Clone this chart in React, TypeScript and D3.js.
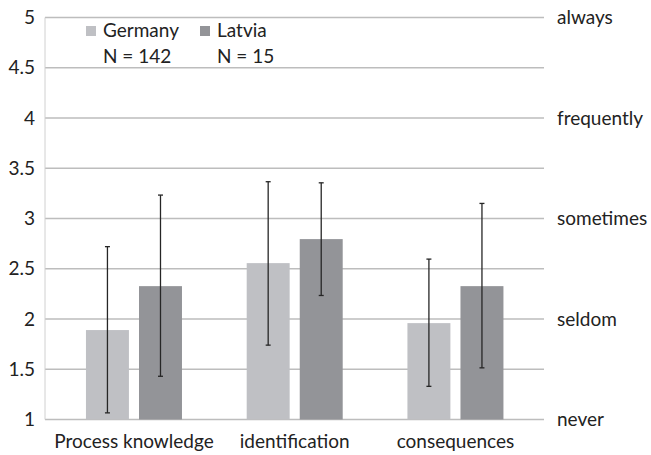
import React from "react";
import * as d3 from "d3";

const categories = ["Process knowledge", "identification", "consequences"];
const seriesNames = ["Germany", "Latvia"];
const seriesN = ["N = 142", "N = 15"];
const germanyMean = [1.89, 2.556, 1.959];
const germanyLow = [1.066, 1.74, 1.33];
const germanyHigh = [2.72, 3.366, 2.596];
const latviaMean = [2.327, 2.795, 2.327];
const latviaLow = [1.43, 2.234, 1.514];
const latviaHigh = [3.233, 3.355, 3.15];
const yTicks = [1, 1.5, 2, 2.5, 3, 3.5, 4, 4.5, 5];
const rightLabels: [number, string][] = [
  [5, "always"],
  [4, "frequently"],
  [3, "sometimes"],
  [2, "seldom"],
  [1, "never"],
];

const W = 651;
const H = 455;
const FONT = "Lato, 'Open Sans', sans-serif";
const FS = 19;
const colors = ["#bfc0c4", "#939498"];

export default function App() {
  const y = d3.scaleLinear().domain([1, 5]).range([419.5, 17.5]);
  const x = d3.scaleBand<string>().domain(categories).range([53.6, 535.8]).paddingInner(0).paddingOuter(0);
  const inner = d3.scaleBand<string>().domain(seriesNames).range([0, x.bandwidth()]).paddingInner(0.19).paddingOuter(0.61);
  const gridX0 = 45;
  const gridX1 = 544;
  const series = [
    { name: seriesNames[0], mean: germanyMean, low: germanyLow, high: germanyHigh },
    { name: seriesNames[1], mean: latviaMean, low: latviaLow, high: latviaHigh },
  ];
  return (
    <svg width={W} height={H} style={{ position: "absolute", left: 0, top: 0, fontFamily: FONT }}>
      <rect width={W} height={H} fill="#fff" />
      {yTicks.map((t) => (
        <line key={t} x1={gridX0} x2={gridX1} y1={y(t)} y2={y(t)} stroke="#bdbdbd" strokeWidth={1.3} />
      ))}
      <line x1={gridX0} x2={gridX0} y1={y(5)} y2={y(1)} stroke="#d0d0d0" strokeWidth={1} />
      {yTicks.map((t) => (
        <text key={t} x={35} y={y(t)} dy="0.35em" textAnchor="end" fontSize={FS} fill="#222">
          {String(t)}
        </text>
      ))}
      {rightLabels.map(([v, l]) => (
        <text key={l} x={557} y={y(v)} dy="0.35em" fontSize={FS} fill="#222">
          {l}
        </text>
      ))}
      {series.map((s, si) =>
        categories.map((c, ci) => {
          const bx = (x(c) as number) + (inner(s.name) as number);
          const bw = inner.bandwidth();
          const cx = bx + bw / 2;
          return (
            <g key={s.name + c}>
              <rect x={bx} y={y(s.mean[ci])} width={bw} height={y(1) - y(s.mean[ci])} fill={colors[si]} />
              <line x1={cx} x2={cx} y1={y(s.high[ci])} y2={y(s.low[ci])} stroke="#262626" strokeWidth={1.3} />
              <line x1={cx - 2.5} x2={cx + 2.5} y1={y(s.high[ci])} y2={y(s.high[ci])} stroke="#262626" strokeWidth={1.3} />
              <line x1={cx - 2.5} x2={cx + 2.5} y1={y(s.low[ci])} y2={y(s.low[ci])} stroke="#262626" strokeWidth={1.3} />
            </g>
          );
        })
      )}
      {categories.map((c) => (
        <text key={c} x={(x(c) as number) + x.bandwidth() / 2} y={448} textAnchor="middle" fontSize={FS} fill="#222">
          {c}
        </text>
      ))}
      {seriesNames.map((n, i) => {
        const lx = [86, 200][i];
        return (
          <g key={n}>
            <rect x={lx} y={26} width={10} height={10} fill={colors[i]} />
            <text x={lx + 17} y={37} fontSize={FS} fill="#222">{n}</text>
            <text x={lx + 17} y={62.5} fontSize={FS} fill="#222">{seriesN[i]}</text>
          </g>
        );
      })}
    </svg>
  );
}
